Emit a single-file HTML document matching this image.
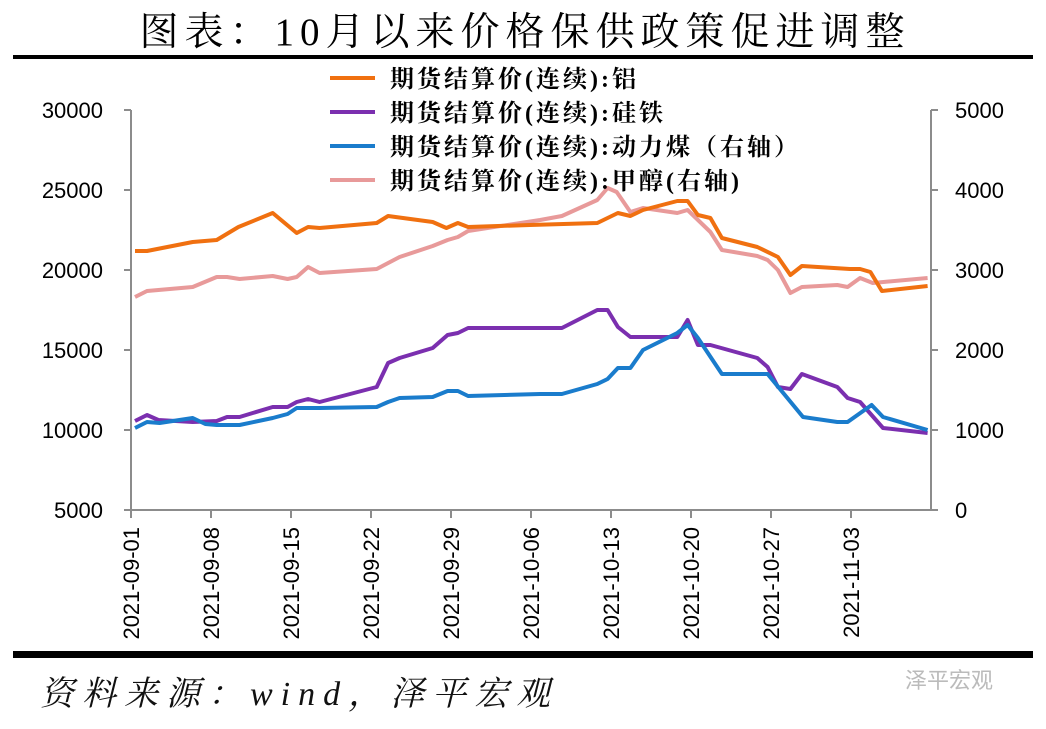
<!DOCTYPE html>
<html><head><meta charset="utf-8"><style>
body{margin:0;background:#fff;}
svg text{font-family:"Liberation Sans","Noto Sans CJK SC",sans-serif;}
.serif{font-family:"Liberation Serif","Noto Serif CJK SC",serif !important;}
</style></head><body>
<svg id="chart" width="1046" height="724" viewBox="0 0 1046 724" xmlns="http://www.w3.org/2000/svg">
<text class="serif" x="525" y="45" font-size="39" letter-spacing="6" text-anchor="middle" fill="#000">图表：10月以来价格保供政策促进调整</text>
<rect x="13" y="55" width="1020" height="4" fill="#000"/>
<rect x="13" y="651" width="1020" height="7" fill="#000"/>
<text class="serif" x="40" y="705" font-size="34" letter-spacing="8" font-style="italic" fill="#111">资料来源：wind，泽平宏观</text>
<text x="905" y="688" font-size="22" fill="#bbb">泽平宏观</text>
<g id="axes"></g>
<g id="series"></g>
<g id="legend"></g>
</svg>
<script>
const leftTicks=[5000,10000,15000,20000,25000,30000];
const rightTicks=[0,1000,2000,3000,4000,5000];
const xTickDays=[0,7,14,21,28,35,42,49,56,63];
const xTickLabels=["2021-09-01","2021-09-08","2021-09-15","2021-09-22","2021-09-29","2021-10-06","2021-10-13","2021-10-20","2021-10-27","2021-11-03"];
const seriesNames=["期货结算价(连续):铝","期货结算价(连续):硅铁","期货结算价(连续):动力煤（右轴）","期货结算价(连续):甲醇(右轴)"];
const alDays=[0.35,1.4,5.4,7.5,9.4,12.4,14.5,15.5,16.5,21.5,22.5,26.4,27.6,28.6,29.5,34.9,40.8,42.6,43.7,44.8,47.8,48.7,49.6,50.7,51.7,54.8,56.6,57.7,58.7,62.9,63.8,64.7,65.7,69.7];
const alVals=[21188,21188,21750,21875,22688,23563,22313,22688,22625,22938,23375,23000,22625,22938,22688,22813,22938,23563,23375,23750,24313,24313,23438,23250,22000,21438,20813,19688,20250,20063,20063,19875,18688,19000];
const fsDays=[0.35,1.4,2.4,5.4,7.5,8.4,9.5,12.4,13.7,14.5,15.5,16.5,21.5,22.5,23.5,26.4,27.7,28.6,29.5,35.8,37.7,40.8,41.7,42.6,43.7,47.8,48.7,49.6,50.7,54.8,55.7,56.6,57.7,58.7,61.8,62.7,63.8,65.8,69.7];
const fsVals=[10563,10938,10625,10500,10563,10813,10813,11438,11438,11750,11938,11750,12688,14188,14500,15125,15938,16063,16375,16375,16375,17500,17500,16438,15813,15813,16875,15313,15313,14500,13938,12688,12563,13500,12688,12000,11750,10125,9813];
const coalDays=[0.35,1.4,2.5,5.4,6.5,7.5,9.5,12.4,13.7,14.5,16.5,21.5,22.5,23.5,26.4,27.7,28.6,29.5,35.8,37.7,40.8,41.7,42.6,43.7,44.8,47.8,48.7,49.6,51.7,55.7,58.8,61.8,62.7,64.8,65.8,69.7];
const coalVals=[1025,1100,1088,1150,1075,1063,1063,1150,1200,1275,1275,1288,1350,1400,1413,1488,1488,1425,1450,1450,1575,1638,1775,1775,2000,2213,2313,2150,1700,1700,1163,1100,1100,1313,1163,1000];
const meDays=[0.35,1.4,5.4,7.5,8.4,9.5,12.4,13.7,14.5,15.5,16.5,21.5,23.5,26.4,27.7,28.6,29.5,35.8,37.7,40.8,41.7,42.5,43.7,44.8,47.8,48.7,50.7,51.7,54.8,55.7,56.6,57.7,58.7,61.8,62.7,63.8,64.9,69.7];
const meVals=[2663,2738,2788,2913,2913,2888,2925,2888,2913,3038,2963,3013,3163,3300,3375,3413,3488,3625,3675,3875,4025,3975,3725,3775,3713,3750,3475,3250,3175,3125,3000,2713,2788,2813,2788,2900,2838,2900];

const NS="http://www.w3.org/2000/svg";
const X0=131,X1=931,Y0=510,Y1=110;
const xs=d=>X0+d*80/7;
const yl=v=>Y0-(v-5000)*(Y0-Y1)/25000;
const yr=v=>Y0-v*(Y0-Y1)/5000;
function mk(tag,attrs,parent){const e=document.createElementNS(NS,tag);for(const k in attrs)e.setAttribute(k,attrs[k]);parent.appendChild(e);return e;}
const axes=document.getElementById('axes');
let e;
e=mk('line',{x1:X0,y1:Y1,x2:X0,y2:Y0,stroke:'#8c8c8c','stroke-width':2},axes);

e=mk('line',{x1:X1,y1:Y1,x2:X1,y2:Y0,stroke:'#8c8c8c','stroke-width':2},axes);

e=mk('line',{x1:X0-7,y1:Y0,x2:X1+7,y2:Y0,stroke:'#8c8c8c','stroke-width':2},axes);

leftTicks.forEach(v=>{
  mk('line',{x1:X0-7,y1:yl(v),x2:X0,y2:yl(v),stroke:'#8c8c8c','stroke-width':2},axes);
  e=mk('text',{x:103,y:yl(v)+8,'font-size':22,'text-anchor':'end',fill:'#000'},axes);e.textContent=v;
  
});
rightTicks.forEach(v=>{
  mk('line',{x1:X1,y1:yr(v),x2:X1+7,y2:yr(v),stroke:'#8c8c8c','stroke-width':2},axes);
  e=mk('text',{x:955,y:yr(v)+8,'font-size':22,fill:'#000'},axes);e.textContent=v;
  
});
xTickDays.forEach((d,i)=>{
  const x=xs(d);
  mk('line',{x1:x,y1:Y0,x2:x,y2:Y0+8,stroke:'#8c8c8c','stroke-width':2},axes);
  e=mk('text',{x:0,y:0,'font-size':22,'text-anchor':'end',fill:'#000',transform:`translate(${x+8},527) rotate(-90)`},axes);e.textContent=xTickLabels[i];
  
});
const ser=document.getElementById('series');
const defs=[[alDays,alVals,yl,'#f07010','aluminum-line'],[fsDays,fsVals,yl,'#7b2faf','ferrosilicon-line'],[coalDays,coalVals,yr,'#1a7ccc','thermal-coal-line'],[meDays,meVals,yr,'#e89a9a','methanol-line']];
const order=[3,0,1,2];
order.forEach(i=>{const [d,v,f,c,n]=defs[i];
  e=mk('polyline',{points:d.map((t,j)=>xs(t).toFixed(1)+','+f(v[j]).toFixed(1)).join(' '),fill:'none',stroke:c,'stroke-width':4,'stroke-linejoin':'round'},ser);
  
});
const leg=document.getElementById('legend');
const legY=[78,112,146,180];
seriesNames.forEach((s,i)=>{
  e=mk('line',{x1:330,y1:legY[i],x2:375,y2:legY[i],stroke:defs[i][3],'stroke-width':4},leg);
  
  e=mk('text',{x:390,y:legY[i]+9,'font-size':24,'letter-spacing':3,'font-weight':'bold',fill:'#000',class:'serif'},leg);e.textContent=s;
  
});
</script>
</body></html>
